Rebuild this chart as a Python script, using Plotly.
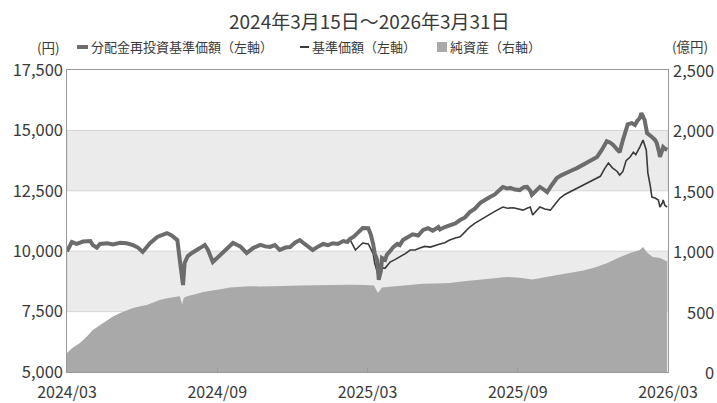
import pandas as pd
import plotly.graph_objects as go

start_date = "2024-03-15"
end_date = "2026-03-31"

# 分配金再投資基準価額 (days since start, yen)
tr_days = [0, 4, 6, 12, 20, 29, 32, 37, 41, 50, 57, 66, 74, 82, 88, 94, 103, 112, 118, 124,
           130, 137, 140, 144, 146, 150, 155, 160, 165, 171, 175, 181, 186, 190, 199, 206, 215, 223, 231, 240,
           246, 252, 258, 264, 271, 277, 283, 289, 295, 302, 305, 312, 318, 324, 330, 336, 343, 348, 351, 356,
           360, 364, 367, 374, 377, 380, 382, 385, 387, 390, 391, 395, 397, 401, 405, 410, 413, 417, 423, 429,
           436, 442, 448, 454, 461, 463, 469, 475, 482, 488, 494, 500, 506, 513, 519, 525, 531, 537, 541, 546,
           550, 556, 562, 567, 571, 575, 577, 582, 587, 592, 596, 602, 608, 614, 621, 627, 633, 639, 645, 652,
           658, 664, 670, 674, 678, 683, 686, 690, 693, 696, 701, 705, 708, 711, 713, 715, 717, 720, 724, 726,
           730, 732, 735, 736, 739, 740, 742, 745]
tr_values = [10000, 10250, 10380, 10300, 10400, 10420, 10250, 10150, 10300, 10330, 10280, 10350, 10330, 10250, 10150, 9970, 10330, 10590, 10680, 10750,
             10650, 10460, 9640, 8600, 9510, 9800, 9925, 10050, 10130, 10260, 10050, 9550, 9700, 9840, 10130, 10340, 10200, 9925, 10130, 10260,
             10200, 10180, 10250, 10050, 10150, 10170, 10350, 10460, 10300, 10150, 10050, 10200, 10300, 10250, 10330, 10300, 10420, 10380, 10500, 10600,
             10750, 10880, 10960, 10950, 10700, 10300, 9900, 9640, 8810, 9300, 9720, 9650, 9850, 10000, 10170, 10300, 10250, 10460, 10600, 10700,
             10650, 10880, 10950, 10850, 11000, 10900, 11000, 11050, 11150, 11290, 11400, 11620, 11750, 12000, 12100, 12240, 12350, 12550, 12660, 12600,
             12620, 12550, 12530, 12650, 12660, 12500, 12330, 12500, 12660, 12550, 12450, 12750, 13030, 13150, 13280, 13350, 13440, 13550, 13650, 13780,
             13900, 14200, 14550, 14500, 14400, 14200, 14100, 14600, 14890, 15250, 15300, 15220, 15400, 15510, 15720, 15600, 15430, 14890, 14800, 14730,
             14600, 14480, 14100, 13900, 14200, 14310, 14250, 14190]

# 基準価額 (days since start, yen)
nav_days = [0, 4, 6, 12, 20, 29, 32, 37, 41, 50, 57, 66, 74, 82, 88, 94, 103, 112, 118, 124,
            130, 137, 140, 144, 146, 150, 155, 160, 165, 171, 175, 181, 186, 190, 199, 206, 215, 223, 231, 240,
            246, 252, 258, 264, 271, 277, 283, 289, 295, 302, 305, 312, 318, 324, 330, 336, 343, 348, 351,
            358, 361, 367, 374, 377, 380, 382, 385, 387, 390, 391, 395, 401, 407, 413, 420, 426, 432, 438, 444,
            451, 457, 463, 469, 475, 482, 488, 494, 500, 506, 513, 519, 525, 531, 541, 547, 554, 560, 566, 571,
            575, 578, 583, 587, 593, 600, 606, 612, 618, 624, 631, 637, 643, 649, 655, 662, 667, 672, 677, 683,
            686, 690, 694, 699, 703, 706, 711, 715, 719, 721, 724, 726, 730, 734, 736, 739, 740, 742, 745]
nav_values = [10000, 10250, 10380, 10300, 10400, 10420, 10250, 10150, 10300, 10330, 10280, 10350, 10330, 10250, 10150, 9970, 10330, 10590, 10680, 10750,
              10650, 10460, 9640, 8600, 9510, 9800, 9925, 10050, 10130, 10260, 10050, 9550, 9700, 9840, 10130, 10340, 10200, 9925, 10130, 10260,
              10200, 10180, 10250, 10050, 10150, 10170, 10350, 10460, 10300, 10150, 10050, 10200, 10300, 10250, 10330, 10300, 10420, 10380, 10500,
              10050, 10150, 10340, 10300, 10100, 9900, 9500, 9200, 8930, 9050, 9300, 9300, 9550, 9650, 9760, 9900, 10050, 10050, 10130, 10200,
              10170, 10250, 10300, 10350, 10460, 10550, 10600, 10800, 11000, 11150, 11290, 11400, 11550, 11650, 11830, 11780, 11800, 11750, 11700, 11780,
              11830, 11500, 11700, 11830, 11750, 11700, 11950, 12200, 12350, 12450, 12550, 12650, 12750, 12860, 12950, 13100, 13400, 13650, 13450, 13300,
              13150, 13300, 13750, 13900, 14100, 14000, 14310, 14600, 14190, 13240, 12700, 12240, 12200, 12120, 11830, 12000, 12120, 11900, 11830]

# 純資産 (days since start, 億円)
aum_days = [0, 7, 16, 25, 32, 41, 50, 57, 66, 74, 82, 91, 99, 107, 115, 124, 132, 138, 140, 143,
            145, 150, 156, 163, 169, 178, 186, 194, 202, 215, 227, 240, 252, 268, 289, 310, 330, 351, 370, 381,
            386, 391, 401, 413, 426, 442, 458, 475, 490, 504, 525, 546, 562, 578, 593, 608, 624, 641, 655, 670,
            686, 699, 711, 715, 720, 727, 736, 745]
aum_values = [157, 200, 240, 295, 348, 390, 430, 460, 488, 510, 530, 545, 555, 575, 596, 610, 621, 630, 628, 560,
              615, 630, 637, 650, 662, 670, 679, 690, 700, 705, 710, 708, 712, 712, 716, 720, 718, 722, 720, 716,
              654, 700, 705, 712, 720, 730, 732, 737, 750, 760, 775, 786, 780, 765, 785, 803, 820, 840, 865, 900,
              950, 985, 1010, 1035, 990, 952, 944, 915]

x_tick_labels = ["2024/03", "2024/09", "2025/03", "2025/09", "2026/03"]
left_ticks = [5000, 7500, 10000, 12500, 15000, 17500]
right_ticks = [0, 500, 1000, 1500, 2000, 2500]
title_text = "2024年3月15日～2026年3月31日"
legend_tr = "分配金再投資基準価額（左軸）"
legend_nav = "基準価額（左軸）"
legend_aum = "純資産（右軸）"

base = pd.Timestamp(start_date)
end = pd.Timestamp(end_date)
to_dates = lambda d: [base + pd.Timedelta(days=int(v)) for v in d]

FONT = "Noto Sans CJK JP"
TXT = "#3a3a3a"
AREA = "#a9a9a9"
THICK = "#6c6c6c"
THIN = "#3a3a3a"
BAND = "#ebebeb"
TICK_SIZE = 16.5

W, H = 717, 403
L, R, T, B = 67, 49, 70, 31
PW, PH = W - L - R, H - T - B


def px(x):
    return (x - L) / PW


def py(y):
    return (H - B - y) / PH


fig = go.Figure()
fig.add_trace(go.Scatter(x=to_dates(aum_days), y=aum_values, mode="lines", fill="tozeroy",
                         line=dict(width=0, color=AREA), fillcolor=AREA, yaxis="y",
                         name=legend_aum, showlegend=False, hoverinfo="skip"))
fig.add_trace(go.Scatter(x=to_dates(nav_days), y=nav_values, mode="lines",
                         line=dict(width=1.6, color=THIN), yaxis="y2",
                         name=legend_nav, showlegend=False))
fig.add_trace(go.Scatter(x=to_dates(tr_days), y=tr_values, mode="lines",
                         line=dict(width=4, color=THICK), yaxis="y2",
                         name=legend_tr, showlegend=False))

shapes = []
for lo, hi in [(7500, 10000), (12500, 15000)]:
    shapes.append(dict(type="rect", xref="paper", yref="y2", x0=0, x1=1, y0=lo, y1=hi,
                       fillcolor=BAND, line=dict(color="#d5d5d5", width=1), layer="below"))

# legend marks
shapes.append(dict(type="line", xref="paper", yref="paper", x0=px(77), x1=px(88), y0=py(47), y1=py(47),
                   line=dict(color=THICK, width=4)))
shapes.append(dict(type="line", xref="paper", yref="paper", x0=px(300), x1=px(309), y0=py(47), y1=py(47),
                   line=dict(color=THIN, width=2)))
shapes.append(dict(type="rect", xref="paper", yref="paper", x0=px(437), x1=px(447), y0=py(52), y1=py(42),
                   fillcolor=AREA, line=dict(width=0)))

ann = []
ann.append(dict(text=title_text, xref="paper", yref="paper", x=px(369), y=py(21), showarrow=False,
                xanchor="center", yanchor="middle", font=dict(size=19, color=TXT, family=FONT)))
for t, x in [(legend_tr, 89), (legend_nav, 310), (legend_aum, 448)]:
    ann.append(dict(text=t, xref="paper", yref="paper", x=px(x), y=py(47), showarrow=False,
                    xanchor="left", yanchor="middle", font=dict(size=13, color=TXT, family=FONT)))
ann.append(dict(text="(円)", xref="paper", yref="paper", x=px(48), y=py(47), showarrow=False,
                xanchor="center", yanchor="middle", font=dict(size=13.5, color=TXT, family=FONT)))
ann.append(dict(text="(億円)", xref="paper", yref="paper", x=px(690), y=py(46), showarrow=False,
                xanchor="center", yanchor="middle", font=dict(size=13.5, color=TXT, family=FONT)))
for v in right_ticks:
    ann.append(dict(text=f"{v:,}", xref="paper", yref="y", x=px(716), y=v, showarrow=False,
                    xanchor="right", yanchor="middle", font=dict(size=TICK_SIZE, color=TXT, family=FONT)))

n = len(x_tick_labels)
tickvals = [base + (end - base) * i / (n - 1) for i in range(n)]

fig.update_layout(
    width=W, height=H,
    margin=dict(l=L, r=R, t=T, b=B, autoexpand=False),
    paper_bgcolor="white", plot_bgcolor="white",
    font=dict(family=FONT, color=TXT, size=16),
    shapes=shapes, annotations=ann,
    showlegend=False,
    xaxis=dict(range=[base, end], tickvals=tickvals, ticktext=x_tick_labels,
               showgrid=False, zeroline=False, showline=True, mirror=True,
               linecolor="#9a9a9a", linewidth=1, ticks="inside", ticklen=4,
               tickcolor="#9a9a9a", ticklabelstandoff=6,
               tickfont=dict(size=16, color=TXT, family=FONT)),
    yaxis=dict(side="right", range=[0, 2500], showticklabels=False, showgrid=False,
               zeroline=False, showline=True, mirror=True, linecolor="#9a9a9a", linewidth=1,
               ticks=""),
    yaxis2=dict(side="left", overlaying="y", range=[5000, 17500], tickvals=left_ticks,
                ticktext=[f"{v:,}" for v in left_ticks], showgrid=False, zeroline=False,
                showline=False, ticks="", ticklabelstandoff=3,
                tickfont=dict(size=TICK_SIZE, color=TXT, family=FONT)),
)

fig.write_html("out.html", config={"displayModeBar": False},
               post_script="document.body.style.margin='0';document.body.style.padding='0';")
